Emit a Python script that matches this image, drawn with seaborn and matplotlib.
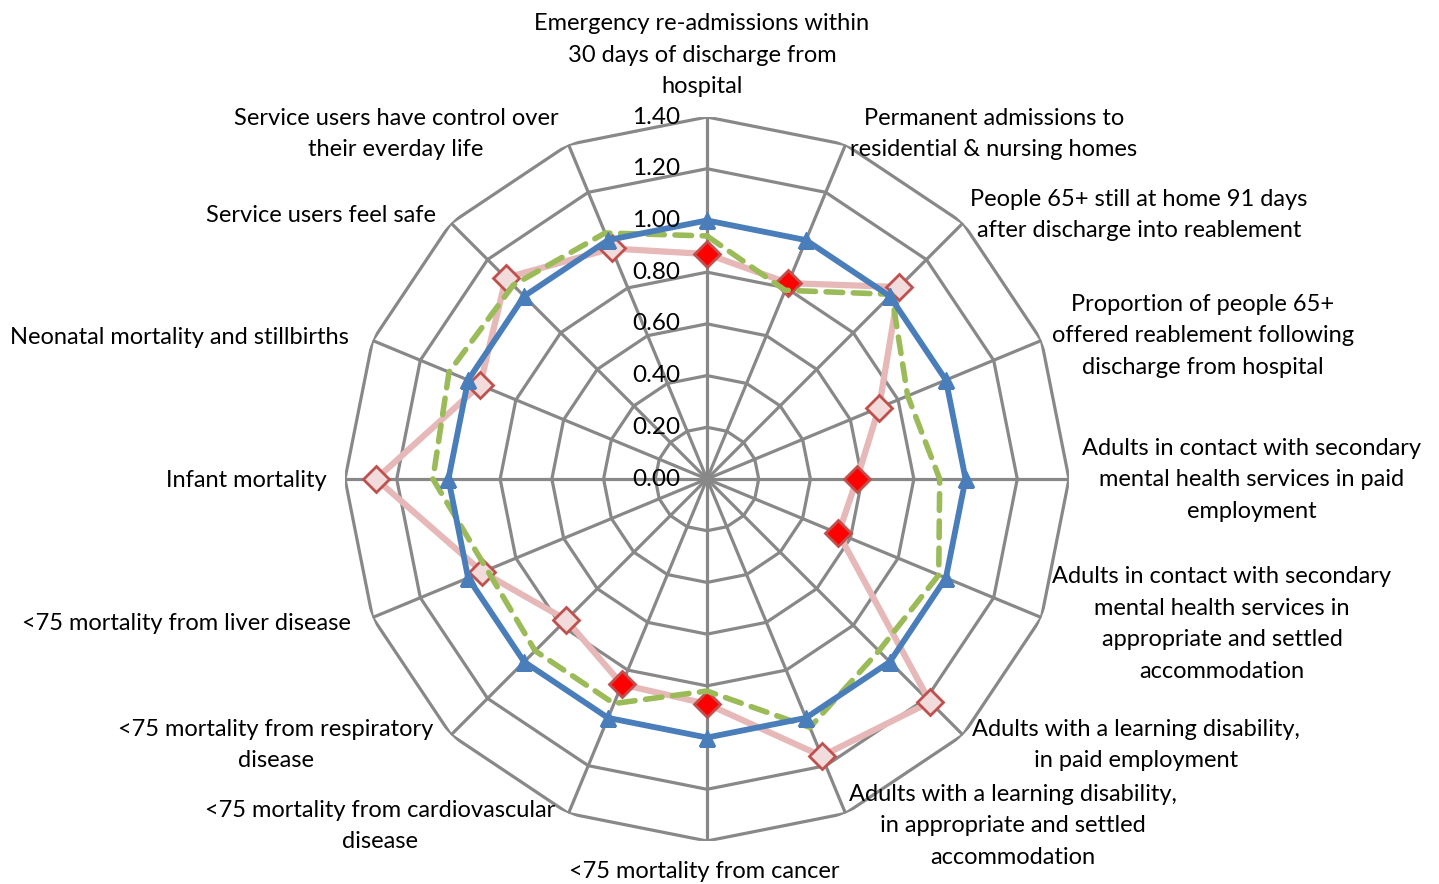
import numpy as np
import pandas as pd
import matplotlib
matplotlib.use("Agg")
import matplotlib.pyplot as plt
import seaborn as sns

# Indicator names, clockwise from the top
categories = [
    "Emergency re-admissions within\n30 days of discharge from\nhospital",
    "Permanent admissions to\nresidential & nursing homes",
    "People 65+ still at home 91 days\nafter discharge into reablement",
    "Proportion of people 65+\noffered reablement following\ndischarge from hospital",
    "Adults in contact with secondary\nmental health services in paid\nemployment",
    "Adults in contact with secondary\nmental health services in\nappropriate and settled\naccommodation",
    "Adults with a learning disability,\nin paid employment",
    "Adults with a learning disability,\nin appropriate and settled\naccommodation",
    "<75 mortality from cancer",
    "<75 mortality from cardiovascular\ndisease",
    "<75 mortality from respiratory\ndisease",
    "<75 mortality from liver disease",
    "Infant mortality",
    "Neonatal mortality and stillbirths",
    "Service users feel safe",
    "Service users have control over\ntheir everday life",
]

# Benchmark (blue), comparator (green dashed) and local values (pink)
benchmark = [1.00] * 16
comparator = [0.94, 0.79, 1.01, 0.84, 0.90, 0.97, 0.94, 1.04,
              0.82, 0.94, 0.94, 0.92, 1.06, 1.08, 1.06, 1.03]
local = [0.87, 0.82, 1.05, 0.72, 0.58, 0.55, 1.22, 1.16,
         0.87, 0.86, 0.77, 0.94, 1.28, 0.95, 1.10, 0.965]
# Points flagged as significantly worse (solid red diamonds)
flagged = [1, 1, 0, 0, 1, 1, 0, 0, 1, 1, 0, 0, 0, 0, 0, 0]

radial_ticks = [0.0, 0.2, 0.4, 0.6, 0.8, 1.0, 1.2, 1.4]

# Label centres in figure pixels (x from left, y from top)
label_pos = [
    (702, 55), (994, 134), (1139, 215), (1203, 336),
    (1252, 480), (1222, 624), (1136, 745), (1013, 826),
    (704, 872), (380, 826), (276, 745), (186, 624),
    (246, 481), (179, 337), (321, 215), (396, 134),
]

W, H = 1439, 884
sns.set_theme(style="white")
plt.rcParams["font.family"] = ["Lato", "DejaVu Sans"]

fig = plt.figure(figsize=(W / 100, H / 100), dpi=100)
ax = fig.add_axes([345 / W, 43 / H, 724 / W, 724 / H], projection="polar")
ax.set_theta_zero_location("N")
ax.set_theta_direction(-1)
ax.set_ylim(0, 1.4)
ax.grid(False)
ax.spines["polar"].set_visible(False)
ax.set_facecolor("white")

n = len(categories)
theta = np.arange(n) * 2 * np.pi / n
theta_c = np.append(theta, 2 * np.pi)

grid_col = "#888888"
# polygonal rings and spokes
for r in radial_ticks[1:]:
    ax.plot(theta_c, [r] * (n + 1), color=grid_col, lw=2.3, zorder=1)
for t in theta:
    ax.plot([t, t], [0, 1.4], color=grid_col, lw=2.3, zorder=1)

for r in radial_ticks:
    ax.annotate(f"{r:.2f}", xy=(0, r), xytext=(-27, 0), textcoords="offset pixels",
                ha="right", va="center", fontsize=17.5, color="black", zorder=6)

def closed(vals):
    return pd.DataFrame({"theta": theta_c, "value": list(vals) + [vals[0]]})

# local values: pink line with diamonds
sns.lineplot(data=closed(local), x="theta", y="value", sort=False, ax=ax,
             color="#E6B9B8", lw=4.5, zorder=2)
df_local = pd.DataFrame({"theta": theta, "value": local, "flag": flagged})
for flag, face in [(1, "#FF0000"), (0, "#F2DCDB")]:
    sub = df_local[df_local["flag"] == flag]
    ax.plot(sub["theta"], sub["value"], ls="none", marker="D", ms=13,
            mfc=face, mec="#C0504D", mew=2.0, zorder=3)

# comparator: green dashed
sns.lineplot(data=closed(comparator), x="theta", y="value", sort=False, ax=ax,
             color="#9BBB59", lw=4.0, dashes=(3.0, 1.9), dash_capstyle="round",
             zorder=4)

# benchmark: blue with triangles
sns.lineplot(data=closed(benchmark), x="theta", y="value", sort=False, ax=ax,
             color="#4A7EBB", lw=4.2, zorder=5)
ax.plot(theta, benchmark, ls="none", marker="^", ms=11, mfc="#4A7EBB",
        mec="#4A7EBB", zorder=5)

ax.set_xlabel("")
ax.set_ylabel("")
ax.set_xticks([])
ax.set_yticks([])
ax.set_ylim(0, 1.4)

for text, (px, py) in zip(categories, label_pos):
    fig.text(px / W, 1 - py / H, text, ha="center", va="center",
             multialignment="center", fontsize=17, linespacing=1.62, color="black")

fig.savefig("out.png", dpi=100)
